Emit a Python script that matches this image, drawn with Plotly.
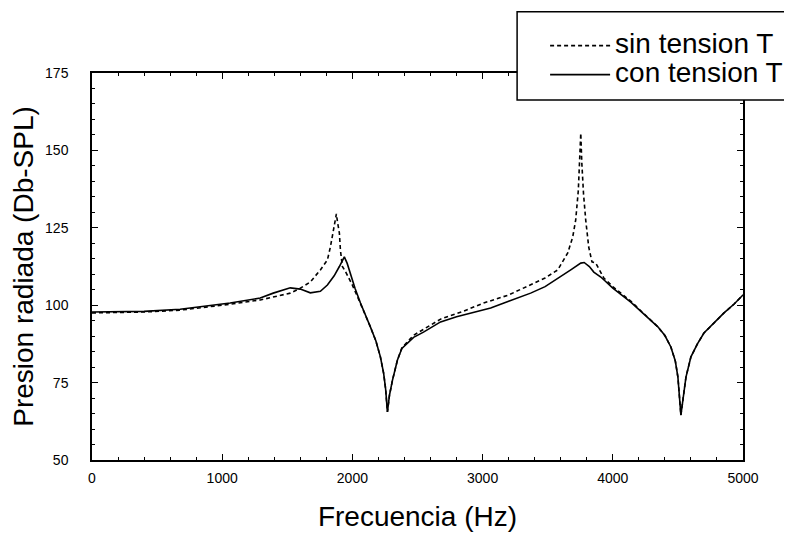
import plotly.graph_objects as go

# con tension T (solid)
freq_con = [0, 400, 677, 1061, 1292, 1392, 1523, 1600, 1677, 1754, 1808, 1860, 1900, 1938,
            1960, 1985, 2020, 2062, 2100, 2138, 2180, 2215, 2240, 2255, 2269, 2285, 2308,
            2346, 2380, 2423, 2470, 2546, 2600, 2677, 2800, 2931, 3062, 3200, 3369, 3480,
            3577, 3680, 3754, 3780, 3820, 3854, 3908, 4000, 4138, 4250, 4346, 4400, 4446,
            4480, 4500, 4523, 4540, 4562, 4600, 4650, 4700, 4780, 4854, 4930, 4985, 5000]
spl_con = [97.8, 98.0, 98.7, 100.7, 102.3, 103.9, 105.6, 105.2, 104.0, 104.5, 106.5, 109.5,
           112.5, 115.6, 113.5, 110.0, 105.5, 100.7, 97.0, 93.0, 88.5, 83.3, 78.0, 73.0, 65.5,
           71.0, 75.8, 82.3, 86.0, 87.8, 89.6, 91.3, 92.6, 94.6, 96.3, 97.8, 99.1, 101.3,
           103.9, 106.0, 108.8, 111.5, 113.6, 113.8, 112.5, 110.7, 109.1, 105.5, 101.0, 96.8,
           93.0, 90.2, 86.5, 82.0, 76.8, 64.5, 70.0, 76.8, 83.3, 87.5, 91.0, 94.5, 97.5,
           100.3, 102.6, 103.3]

# sin tension T (dashed)
freq_sin = [0, 400, 677, 1061, 1292, 1392, 1523, 1600, 1677, 1754, 1808, 1831, 1854, 1870,
            1877, 1885, 1900, 1908, 1923, 1945, 1970, 2000, 2062, 2100, 2138, 2180, 2215,
            2240, 2255, 2269, 2285, 2308, 2346, 2380, 2423, 2470, 2546, 2600, 2677, 2850,
            3008, 3200, 3369, 3480, 3577, 3654, 3692, 3715, 3735, 3746, 3754, 3762, 3775,
            3792, 3815, 3840, 3869, 3931, 4000, 4138, 4250, 4346, 4400, 4446, 4480, 4500,
            4523, 4540, 4562, 4600, 4650, 4700, 4780, 4854, 4930, 4985, 5000]
spl_sin = [97.5, 97.8, 98.4, 100.3, 101.7, 102.6, 103.9, 105.5, 107.5, 111.4, 114.6, 118.8,
           124.3, 128.0, 129.5, 127.0, 123.3, 117.8, 112.5, 111.0, 109.0, 106.5, 100.5, 97.0,
           93.0, 88.5, 83.3, 78.0, 73.0, 65.5, 71.0, 75.8, 82.3, 86.2, 88.3, 90.3, 92.2,
           93.5, 95.5, 98.0, 100.7, 103.3, 106.5, 108.8, 111.4, 116.9, 122.0, 127.5, 137.0,
           147.0, 155.6, 146.0, 136.0, 127.5, 118.8, 114.0, 113.6, 108.8, 106.0, 101.3, 96.8,
           93.0, 90.2, 86.5, 82.0, 76.8, 64.5, 70.0, 76.8, 83.3, 87.5, 91.0, 94.5, 97.5,
           100.3, 102.6, 103.3]

series_names = ["sin tension T", "con tension T"]
x_ticks = [0, 1000, 2000, 3000, 4000, 5000]
y_ticks = [50, 75, 100, 125, 150, 175]

FONT = "Liberation Sans, Arial, sans-serif"


def legend_label(text):
    return "<span style='font-size:28px'>" + text + "</span>"


fig = go.Figure()
fig.add_trace(go.Scatter(x=freq_sin, y=spl_sin, mode="lines", name=legend_label(series_names[0]),
                         line=dict(color="black", width=1.6, dash="4px,3px")))
fig.add_trace(go.Scatter(x=freq_con, y=spl_con, mode="lines", name=legend_label(series_names[1]),
                         line=dict(color="black", width=1.6)))

axis_common = dict(showgrid=False, zeroline=False, showline=True, linecolor="black",
                   linewidth=1.5, mirror="ticks", ticks="inside", ticklen=6,
                   tickcolor="black", tickwidth=1,
                   tickfont=dict(family=FONT, size=14, color="black"))

fig.update_xaxes(range=[0, 5000], tickvals=x_ticks, ticktext=[str(v) for v in x_ticks],
                 minor=dict(dtick=200, ticks="inside", ticklen=3, tickcolor="black"),
                 ticklabelstandoff=4,
                 title=dict(text="Frecuencia (Hz)", font=dict(family=FONT, size=28, color="black"),
                            standoff=22),
                 **axis_common)
fig.update_yaxes(range=[50, 175], tickvals=y_ticks, ticktext=[str(v) for v in y_ticks],
                 minor=dict(dtick=5, ticks="inside", ticklen=3, tickcolor="black"),
                 ticklabelstandoff=19,
                 title=dict(text="Presion radiada (Db-SPL)",
                            font=dict(family=FONT, size=28, color="black"), standoff=4),
                 **axis_common)

# legend frame (white box that covers the top-right corner of the axes frame)
fig.add_shape(type="rect", xref="paper", yref="paper", x0=0.653, x1=1.09, y0=0.930, y1=1.158,
              fillcolor="white", line=dict(color="black", width=1.5), layer="above")

fig.update_layout(
    width=792, height=541,
    margin=dict(l=84, r=57, t=65, b=89, autoexpand=False),
    paper_bgcolor="white", plot_bgcolor="white",
    showlegend=True,
    legend=dict(x=0.696, y=1.121, xanchor="left", yanchor="top",
                bgcolor="rgba(0,0,0,0)", borderwidth=0,
                font=dict(family=FONT, size=20, color="black"),
                itemwidth=60, tracegroupgap=0),
)

fig.write_html("out.html")
